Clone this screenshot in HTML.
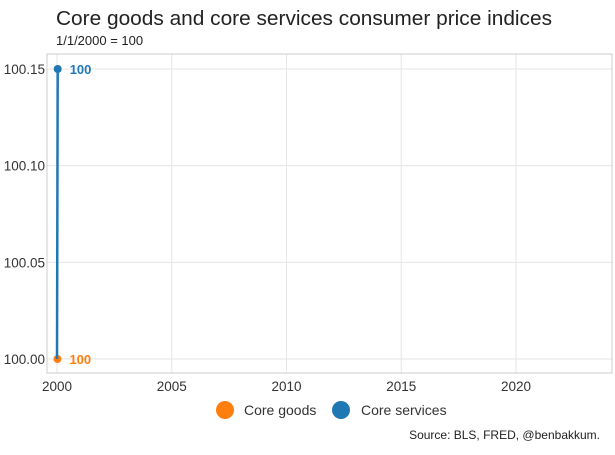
<!DOCTYPE html>
<html><head><meta charset="utf-8"><style>
body{margin:0;background:#fff;font-family:"Liberation Sans",sans-serif;}
svg text{font-family:"Liberation Sans",sans-serif;}
</style></head><body>
<svg id="chart" width="615" height="450">
<text x="56" y="25" font-size="20.5" fill="#222" textLength="496" lengthAdjust="spacingAndGlyphs">Core goods and core services consumer price indices</text>
<text x="56" y="45" font-size="13" fill="#222">1/1/2000 = 100</text>
<g id="grid"></g>
<rect x="47" y="54" width="565" height="319" fill="none" stroke="#ccc"/>
<g id="marks"></g>
<g>
<circle cx="225" cy="410" r="9" fill="#ff7f0e"/>
<text x="244" y="415" font-size="14" fill="#333">Core goods</text>
<circle cx="341" cy="410" r="9" fill="#1f77b4"/>
<text x="361" y="415" font-size="14" fill="#333">Core services</text>
</g>
<text x="600" y="439" font-size="12" fill="#222" text-anchor="end">Source: BLS, FRED, @benbakkum.</text>
</svg>
<script>
const xTicks=[2000,2005,2010,2015,2020];
const yTicks=[100.00,100.05,100.10,100.15];
const goodsX=[2000,2000.02];
const goodsY=[100,100];
const servicesX=[2000,2000.03];
const servicesY=[100,100.15];
const goodsLabel="100", servicesLabel="100";
const X=v=>57+(v-2000)*22.95;
const Y=v=>359-(v-100)*1933.3;
const NS="http://www.w3.org/2000/svg";
const g=document.getElementById('grid'),m=document.getElementById('marks');
function mk(p,tag,at){const e=document.createElementNS(NS,tag);for(const k in at)e.setAttribute(k,at[k]);p.appendChild(e);return e;}
xTicks.forEach(t=>{
 const l=mk(g,'line',{x1:X(t),x2:X(t),y1:54,y2:373,stroke:'#e6e6e6'});
 
 
 const tx=mk(g,'text',{x:X(t),y:391,'font-size':13.5,'text-anchor':'middle',fill:'#333'});tx.textContent=t;
 
 
});
yTicks.forEach(t=>{
 const l=mk(g,'line',{x1:47,x2:612,y1:Y(t),y2:Y(t),stroke:'#e6e6e6'});
 
 
 const tx=mk(g,'text',{x:45,y:Y(t)+5,'font-size':13.5,'text-anchor':'end',fill:'#333'});tx.textContent=t.toFixed(2);
 
 
});
function series(xs,ys,col,name,label){
 const pts=xs.map((x,i)=>X(x)+','+Y(ys[i])).join(' ');
 const pl=mk(m,'polyline',{points:pts,fill:'none',stroke:col,'stroke-width':2.5});
 
 
 const n=xs.length-1;
 const c=mk(m,'circle',{cx:X(xs[n]),cy:Y(ys[n]),r:4,fill:col});
 
 
 const t=mk(m,'text',{x:X(xs[n])+12,y:Y(ys[n])+5,'font-size':13,'font-weight':'bold',fill:col});t.textContent=label;
 
 
}
series(goodsX,goodsY,'#ff7f0e','core-goods',goodsLabel);
series(servicesX,servicesY,'#1f77b4','core-services',servicesLabel);
</script>
</body></html>
